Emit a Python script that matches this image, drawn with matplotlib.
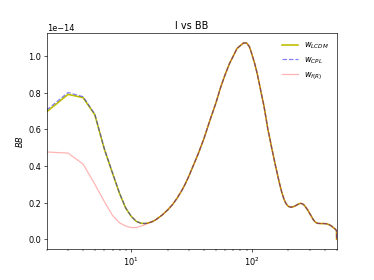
import matplotlib
matplotlib.use('Agg')
import matplotlib.pyplot as plt
import numpy as np

# multipoles and BB spectra (units of 1e-14)
ell = [2, 3, 4, 5, 6, 7, 8, 9, 10, 11, 12, 13, 14,
       15, 16, 17, 18, 20, 22, 24, 26, 28, 30, 33, 36, 40, 45, 50, 55, 60,
       65, 70, 75, 80, 85, 90, 95, 100, 105, 110, 115, 120, 125, 130, 135,
       140, 145, 150, 155, 160, 165, 170, 175, 180, 185, 190, 195, 200, 210,
       220, 230, 240, 250, 260, 270, 280, 290, 300, 310, 320, 330, 340, 350,
       370, 390, 410, 430, 450, 470, 490, 499, 500]

# low multipoles (l = 2..14), where the models differ
low_lcdm = [0.695, 0.79, 0.772, 0.678, 0.49, 0.36, 0.25, 0.17, 0.125, 0.098,
            0.088, 0.086, 0.09]
low_cpl = [0.705, 0.80, 0.777, 0.682, 0.492, 0.362, 0.252, 0.171, 0.126,
           0.098, 0.088, 0.086, 0.09]
low_fr = [0.476, 0.47, 0.41, 0.30, 0.205, 0.13, 0.09, 0.072, 0.064, 0.064,
          0.072, 0.08, 0.09]

# l >= 15, common to all three
high = [0.097, 0.107, 0.12, 0.132, 0.16, 0.19, 0.225, 0.262, 0.302, 0.345,
        0.41, 0.47, 0.55, 0.653, 0.74, 0.83, 0.90,
        0.958, 1.0, 1.04, 1.056, 1.07, 1.07, 1.05, 1.005, 0.958, 0.905,
        0.845, 0.785, 0.73, 0.665, 0.6,
        0.55, 0.5, 0.455, 0.41, 0.37, 0.33, 0.295, 0.262, 0.235, 0.213,
        0.197, 0.186, 0.179, 0.175,
        0.178, 0.184, 0.191, 0.196, 0.194, 0.186, 0.172, 0.157, 0.14,
        0.124, 0.108, 0.097, 0.09, 0.087,
        0.086, 0.086, 0.085, 0.081, 0.074, 0.064, 0.054, 0.048, 0.0]

bb_lcdm = np.array(low_lcdm + high) * 1e-14
bb_cpl = np.array(low_cpl + high) * 1e-14
bb_fr = np.array(low_fr + high) * 1e-14

fig = plt.figure(figsize=(6.4, 4.8), dpi=58.4375)
plt.plot(ell, bb_lcdm, 'y', lw=2, label='$w_{LCDM}$')
plt.plot(ell, bb_cpl, 'b--', alpha=0.5, label='$w_{CPL}$')
plt.plot(ell, bb_fr, 'r', alpha=0.3, label='$w_{f(R)}$')
plt.xscale('log')
plt.xlim(2, 500)
plt.title('l vs BB')
plt.ylabel('$BB$')
plt.legend(frameon=False)

fig.savefig('out.png', dpi=58.4375)
